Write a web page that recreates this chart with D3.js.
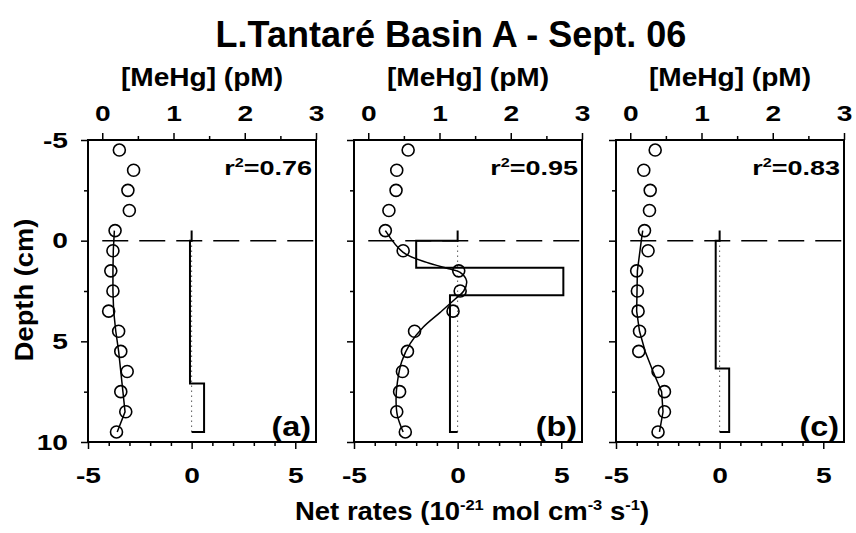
<!DOCTYPE html>
<html>
<head>
<meta charset="utf-8">
<script src="https://cdn.jsdelivr.net/npm/d3@7"></script>
<style>
  body { margin: 0; background: #fff; }
  text { font-family: "Liberation Sans", Arial, sans-serif; font-weight: bold; fill: #000; }
</style>
</head>
<body>
<script>
// sampling depths (cm) of the MeHg profile
var depths = [-4.5, -3.5, -2.5, -1.5, -0.5, 0.5, 1.5, 2.5, 3.5, 4.5, 5.5, 6.5, 7.5, 8.5, 9.5];

// measured [MeHg] (pM), panels a, b, c
var mehgA = [0.24, 0.44, 0.36, 0.38, 0.18, 0.15, 0.12, 0.15, 0.09, 0.23, 0.26, 0.35, 0.26, 0.33, 0.20];
var mehgB = [0.56, 0.40, 0.39, 0.29, 0.24, 0.49, 1.27, 1.29, 1.19, 0.65, 0.55, 0.48, 0.44, 0.40, 0.52];
var mehgC = [0.35, 0.19, 0.28, 0.27, 0.20, 0.25, 0.09, 0.10, 0.11, 0.13, 0.12, 0.39, 0.48, 0.48, 0.39];

// modelled profiles (depth, MeHg)
var fitDepthA = [-0.5, 0.5, 1.5, 2.5, 3.5, 4.5, 5.5, 6.5, 7.5, 8.5, 9.5];
var fitA      = [0.17, 0.155, 0.15, 0.15, 0.16, 0.19, 0.23, 0.26, 0.29, 0.32, 0.21];
var fitDepthB = [-0.5, 0.58, 1.08, 1.41, 1.58, 2.0, 2.5, 2.9, 3.56, 4.3, 5.1, 6.0, 7.0, 7.9, 8.7, 9.5];
var fitB      = [0.24, 0.49, 0.82, 1.15, 1.29, 1.38, 1.34, 1.22, 1.01, 0.77, 0.59, 0.47, 0.41, 0.39, 0.41, 0.49];
var fitDepthC = [-0.5, 0, 1.5, 3.5, 4.5, 5.5, 6.5, 7.5, 8.5, 9.5];
var fitC      = [0.175, 0.155, 0.10, 0.09, 0.13, 0.21, 0.32, 0.44, 0.46, 0.41];

// net rate zones: boundaries (cm) and rates (10^-21 mol cm-3 s-1)
var zoneA = [0, 7.1, 9.5];        var rateA = [-0.08, 0.6];
var zoneB = [0, 1.34, 2.71, 9.5]; var rateB = [-2.0, 5.1, -0.37];
var zoneC = [0, 6.35, 9.5];       var rateC = [-0.19, 0.46];

var r2Labels = ["0.76", "0.95", "0.83"];
var panelTags = ["(a)", "(b)", "(c)"];

var mehgTicks = [0, 1, 2, 3];
var mehgMinor = [0.5, 1.5, 2.5];
var rateTicks = [-5, 0, 5];
var rateMinor = [-4, -3, -2, -1, 1, 2, 3, 4];
var depthTicks = [-5, 0, 5, 10];
var depthMinor = [-2.5, 2.5, 7.5];

var panels = [
  {mehg: mehgA, fd: fitDepthA, fit: fitA, zone: zoneA, rate: rateA, curve: d3.curveLinear},
  {mehg: mehgB, fd: fitDepthB, fit: fitB, zone: zoneB, rate: rateB, curve: d3.curveCatmullRom},
  {mehg: mehgC, fd: fitDepthC, fit: fitC, zone: zoneC, rate: rateC, curve: d3.curveLinear}
];

var width = 856, height = 533;
var lefts = [88, 354, 616], pw = 228, plotTop = 140, ph = 302;

var svg = d3.select("body").append("svg")
  .attr("width", width)
  .attr("height", height);

// the original type is wide, stretch it horizontally
function widen(sel, s) {
  sel.each(function() {
    var t = d3.select(this);
    var x = +t.attr("x") || 0;
    t.attr("x", x / s).attr("transform", "scale(" + s + ",1)");
  });
}

svg.append("text")
  .attr("transform", "translate(451,47)")
  .attr("text-anchor", "middle")
  .style("font-size", "36px")
  .text("L.Tantaré Basin A - Sept. 06");

var y = d3.scaleLinear().domain([-5, 10]).range([plotTop, plotTop + ph]);

panels.forEach(function(p, i) {
  var L = lefts[i];
  var xm = d3.scaleLinear().domain([-0.2, 3]).range([L, L + pw]);
  var xr = d3.scaleLinear().domain([-5, 6]).range([L, L + pw]);
  var g = svg.append("g");

  // axes
  var topAx = g.append("g").attr("transform", "translate(0," + plotTop + ")")
    .call(d3.axisTop(xm).tickValues(mehgTicks).tickSize(7).tickPadding(12).tickFormat(d3.format("d")));
  g.append("g").attr("transform", "translate(0," + plotTop + ")")
    .call(d3.axisTop(xm).tickValues(mehgMinor).tickSize(4).tickFormat(""));
  var botAx = g.append("g").attr("transform", "translate(0," + (plotTop + ph) + ")")
    .call(d3.axisBottom(xr).tickValues(rateTicks).tickSize(7).tickPadding(18).tickFormat(function(d) { return String(d); }));
  g.append("g").attr("transform", "translate(0," + (plotTop + ph) + ")")
    .call(d3.axisBottom(xr).tickValues(rateMinor).tickSize(4).tickFormat(""));
  var leftAx = g.append("g").attr("transform", "translate(" + L + ",0)")
    .call(d3.axisLeft(y).tickValues(depthTicks).tickSize(7).tickPadding(13).tickFormat(i == 0 ? function(d) { return String(d); } : ""));
  g.append("g").attr("transform", "translate(" + L + ",0)")
    .call(d3.axisLeft(y).tickValues(depthMinor).tickSize(4).tickFormat(""));

  g.selectAll(".domain").remove();
  g.selectAll(".tick line").attr("stroke", "#000").attr("stroke-width", 1.5);
  g.selectAll(".tick text").style("font-size", "22px").attr("font-family", null);
  widen(topAx.selectAll("text"), 1.28);
  widen(botAx.selectAll("text"), 1.28);
  widen(leftAx.selectAll("text"), 1.28);

  g.append("rect")
    .attr("x", L).attr("y", plotTop).attr("width", pw).attr("height", ph)
    .attr("fill", "none").attr("stroke", "#000").attr("stroke-width", 2);

  // sediment-water interface
  g.append("line")
    .attr("x1", xm(0)).attr("x2", L + pw).attr("y1", y(0)).attr("y2", y(0))
    .attr("stroke", "#000").attr("stroke-width", 1.5).attr("stroke-dasharray", "26,11");

  // zero rate line
  g.append("line")
    .attr("x1", xr(0)).attr("x2", xr(0)).attr("y1", y(0)).attr("y2", y(9.5))
    .attr("stroke", "#000").attr("stroke-width", 1).attr("stroke-dasharray", "1,4");

  // rate steps
  var pts = [[0, -0.5], [0, 0]];
  p.rate.forEach(function(r, k) {
    pts.push([r, p.zone[k]]);
    pts.push([r, p.zone[k + 1]]);
  });
  pts.push([0, p.zone[p.zone.length - 1]]);
  g.append("path")
    .attr("d", d3.line().x(function(d) { return xr(d[0]); }).y(function(d) { return y(d[1]); })(pts))
    .attr("fill", "none").attr("stroke", "#000").attr("stroke-width", 2);

  // model
  var fitPts = p.fd.map(function(d, k) { return [p.fit[k], d]; });
  g.append("path")
    .attr("d", d3.line().curve(p.curve).x(function(d) { return xm(d[0]); }).y(function(d) { return y(d[1]); })(fitPts))
    .attr("fill", "none").attr("stroke", "#000").attr("stroke-width", 1.5);

  // data
  g.selectAll("circle").data(p.mehg).enter().append("circle")
    .attr("cx", function(d) { return xm(d); })
    .attr("cy", function(d, k) { return y(depths[k]); })
    .attr("r", 6)
    .attr("fill", "none").attr("stroke", "#000").attr("stroke-width", 1.6);

  // labels
  var r2 = g.append("text")
    .attr("transform", "translate(" + (L + pw - 4) + ",175) scale(1.35,1)")
    .attr("text-anchor", "end")
    .style("font-size", "20px");
  r2.append("tspan").text("r");
  r2.append("tspan").attr("dy", -8).style("font-size", "12px").text("2");
  r2.append("tspan").attr("dy", 8).text("=" + r2Labels[i]);

  g.append("text")
    .attr("transform", "translate(" + (L + pw - 5) + ",436) scale(1.2,1)")
    .attr("text-anchor", "end")
    .style("font-size", "27px")
    .text(panelTags[i]);

  g.append("text")
    .attr("transform", "translate(" + (L + pw / 2) + ",86) scale(1.08,1)")
    .attr("text-anchor", "middle")
    .style("font-size", "26px")
    .text("[MeHg] (pM)");
});

svg.append("text")
  .attr("transform", "translate(33,290) rotate(-90) scale(1.05,1)")
  .attr("text-anchor", "middle")
  .style("font-size", "26px")
  .text("Depth (cm)");

var xl = svg.append("text")
  .attr("transform", "translate(472,520) scale(1.1,1)")
  .attr("text-anchor", "middle")
  .style("font-size", "25px");
xl.append("tspan").text("Net rates (10");
xl.append("tspan").attr("dy", -10).style("font-size", "15px").text("-21");
xl.append("tspan").attr("dy", 10).text(" mol cm");
xl.append("tspan").attr("dy", -10).style("font-size", "15px").text("-3");
xl.append("tspan").attr("dy", 10).text(" s");
xl.append("tspan").attr("dy", -10).style("font-size", "15px").text("-1");
xl.append("tspan").attr("dy", 10).text(")");
</script>
</body>
</html>
